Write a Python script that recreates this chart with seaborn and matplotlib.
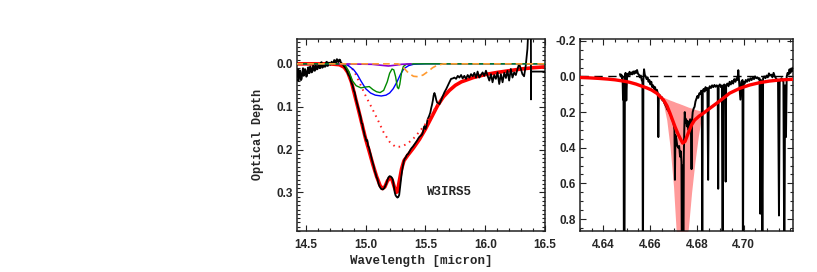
import numpy as np
import pandas as pd
import matplotlib
matplotlib.use("Agg")
import matplotlib.pyplot as plt
import seaborn as sns
from matplotlib.ticker import MultipleLocator, FormatStrFormatter

sns.set_style("ticks")
plt.rcParams['font.family'] = ['Liberation Sans', 'DejaVu Sans']
plt.rcParams['axes.unicode_minus'] = True

# ---------------- Left panel: 15 micron CO2 band, W3IRS5 ----------------
obs15_x = [14.422, 14.431, 14.436, 14.442, 14.448, 14.453, 14.458, 14.464, 14.470, 14.475,
           14.481, 14.486, 14.492, 14.497, 14.503, 14.508, 14.514, 14.519, 14.525, 14.531,
           14.536, 14.542, 14.548, 14.553, 14.558, 14.564, 14.570, 14.575, 14.581, 14.586,
           14.592, 14.597, 14.603, 14.608, 14.614, 14.619, 14.625, 14.631, 14.636, 14.642,
           14.647, 14.653, 14.658, 14.664, 14.669, 14.675, 14.680, 14.686, 14.692, 14.697,
           14.703, 14.708, 14.714, 14.719, 14.725, 14.731, 14.736, 14.742, 14.747, 14.753,
           14.758, 14.764, 14.770, 14.775, 14.781, 14.786, 14.792, 14.797, 14.804, 14.811,
           14.818, 14.825, 14.840, 14.853, 14.867, 14.878, 14.890, 14.900, 14.908, 14.918,
           14.930, 14.940, 14.950, 14.958, 14.965, 14.972, 14.978, 14.985, 14.990, 14.998,
           15.006, 15.013, 15.020, 15.027, 15.033, 15.042, 15.050, 15.060, 15.068, 15.075,
           15.083, 15.090, 15.097, 15.103, 15.110, 15.120, 15.130, 15.144, 15.155, 15.165,
           15.172, 15.180, 15.190, 15.200, 15.210, 15.220, 15.228, 15.235, 15.243, 15.250,
           15.258, 15.265, 15.272, 15.280, 15.287, 15.293, 15.300, 15.310, 15.318, 15.325,
           15.335, 15.345, 15.355, 15.367, 15.375, 15.385, 15.395, 15.408, 15.420, 15.430,
           15.440, 15.450, 15.460, 15.470, 15.478, 15.485, 15.492, 15.500, 15.508, 15.515,
           15.520, 15.530, 15.540, 15.548, 15.555, 15.562, 15.568, 15.575, 15.583, 15.590,
           15.597, 15.605, 15.617, 15.630, 15.645, 15.659, 15.673, 15.686, 15.700, 15.714,
           15.728, 15.742, 15.756, 15.770, 15.784, 15.798, 15.811, 15.825, 15.839, 15.853,
           15.867, 15.881, 15.895, 15.909, 15.923, 15.936, 15.950, 15.964, 15.978, 15.992,
           16.006, 16.020, 16.034, 16.048, 16.061, 16.075, 16.089, 16.103, 16.117, 16.131,
           16.145, 16.159, 16.173, 16.186, 16.200, 16.214, 16.228, 16.242, 16.256, 16.270,
           16.284, 16.298, 16.311, 16.325, 16.339, 16.353, 16.362, 16.382, 16.383, 16.384,
           16.500]
obs15_y = [0.030, 0.012, 0.040, 0.032, 0.015, 0.018, 0.038, 0.035, 0.020, 0.010,
           0.028, 0.026, 0.012, 0.016, 0.030, 0.028, 0.014, 0.008, 0.022, 0.021,
           0.006, 0.012, 0.020, 0.018, 0.005, 0.004, 0.016, 0.016, 0.004, 0.006,
           0.013, 0.012, 0.002, 0.000, 0.010, 0.010, -0.003, -0.004, 0.009, 0.008,
           0.000, 0.000, 0.007, 0.006, -0.004, -0.005, 0.005, 0.004, -0.003, -0.002,
           0.002, 0.001, -0.005, -0.004, -0.001, -0.002, -0.009, -0.008, -0.003, -0.004,
           -0.011, -0.010, -0.004, -0.005, -0.010, -0.009, -0.003, -0.002, 0.001, 0.001,
           0.006, 0.008, 0.015, 0.024, 0.030, 0.042, 0.050, 0.062, 0.067, 0.082,
           0.095, 0.105, 0.116, 0.125, 0.138, 0.140, 0.152, 0.158, 0.166, 0.172,
           0.180, 0.178, 0.192, 0.195, 0.203, 0.212, 0.222, 0.232, 0.240, 0.250,
           0.256, 0.264, 0.268, 0.275, 0.282, 0.288, 0.292, 0.293, 0.290, 0.284,
           0.280, 0.272, 0.265, 0.262, 0.263, 0.266, 0.272, 0.285, 0.300, 0.307,
           0.310, 0.312, 0.311, 0.306, 0.290, 0.275, 0.258, 0.240, 0.228, 0.222,
           0.218, 0.212, 0.210, 0.204, 0.200, 0.196, 0.193, 0.188, 0.183, 0.179,
           0.174, 0.170, 0.168, 0.165, 0.160, 0.150, 0.145, 0.152, 0.145, 0.133,
           0.128, 0.122, 0.114, 0.103, 0.095, 0.085, 0.074, 0.068, 0.075, 0.084,
           0.090, 0.092, 0.094, 0.085, 0.075, 0.066, 0.059, 0.051, 0.043, 0.035,
           0.034, 0.032, 0.035, 0.028, 0.032, 0.026, 0.034, 0.028, 0.035, 0.026,
           0.032, 0.024, 0.029, 0.021, 0.032, 0.018, 0.032, 0.026, 0.020, 0.028,
           0.016, 0.028, 0.039, 0.024, 0.043, 0.026, 0.035, 0.020, 0.047, 0.024,
           0.043, 0.021, 0.033, 0.016, 0.039, 0.012, 0.032, 0.020, 0.026, 0.012,
           0.000, 0.012, 0.024, 0.029, 0.004, -0.035, -0.090, -0.090, 0.083, 0.018,
           0.018]

fit15_x = [14.42, 14.70, 14.78, 14.82, 14.85, 14.88, 14.91, 14.94, 14.97, 15.00,
           15.03, 15.06, 15.09, 15.12, 15.14, 15.16, 15.18, 15.20, 15.22, 15.24,
           15.255, 15.265, 15.28, 15.30, 15.32, 15.35, 15.40, 15.45, 15.50, 15.55,
           15.60, 15.65, 15.70, 15.75, 15.80, 15.90, 16.00, 16.10, 16.20, 16.30,
           16.40, 16.50]
fit15_y = [0.000, 0.000, 0.002, 0.008, 0.020, 0.042, 0.075, 0.108, 0.142, 0.176,
           0.205, 0.235, 0.262, 0.284, 0.291, 0.287, 0.274, 0.266, 0.270, 0.288,
           0.300, 0.298, 0.275, 0.245, 0.226, 0.214, 0.196, 0.176, 0.152, 0.125,
           0.098, 0.077, 0.062, 0.050, 0.042, 0.032, 0.025, 0.020, 0.016, 0.012,
           0.009, 0.007]

broad_x = [14.80, 14.85, 14.90, 14.95, 15.00, 15.05, 15.10, 15.15, 15.20, 15.25,
           15.30, 15.35, 15.40, 15.45, 15.50, 15.55, 15.60, 15.62]
broad_y = [0.000, 0.003, 0.015, 0.045, 0.075, 0.102, 0.130, 0.160, 0.182, 0.194,
           0.193, 0.186, 0.174, 0.158, 0.140, 0.118, 0.095, 0.088]

blue_x = [14.42, 14.80, 14.85, 14.90, 14.93, 14.96, 15.00, 15.04, 15.08, 15.13,
          15.17, 15.20, 15.23, 15.26, 15.29, 15.32, 15.36, 15.40, 15.50, 16.50]
blue_y = [0.000, 0.000, 0.003, 0.014, 0.025, 0.040, 0.058, 0.068, 0.073, 0.075,
          0.073, 0.068, 0.058, 0.043, 0.025, 0.011, 0.004, 0.001, 0.000, 0.000]

green_x = [14.42, 14.80, 14.83, 14.86, 14.89, 14.92, 14.96, 15.00, 15.03, 15.06,
           15.09, 15.12, 15.15, 15.18, 15.20, 15.22, 15.235, 15.25, 15.265, 15.275,
           15.285, 15.30, 15.315, 15.34, 15.40, 16.50]
green_y = [0.000, 0.000, 0.004, 0.018, 0.040, 0.051, 0.056, 0.054, 0.053, 0.060,
           0.065, 0.067, 0.062, 0.042, 0.022, 0.012, 0.014, 0.030, 0.055, 0.058,
           0.048, 0.020, 0.006, 0.001, 0.000, 0.000]

purple_x = [14.78, 15.05, 15.12, 15.19, 15.25, 15.30, 15.38]
purple_y = [0.000, 0.001, 0.003, 0.005, 0.003, 0.001, 0.000]

orange_x = [14.42, 15.27, 15.30, 15.33, 15.36, 15.40, 15.44, 15.48, 15.52, 15.56,
            15.60, 15.65, 16.50]
orange_y = [0.000, 0.000, 0.004, 0.013, 0.022, 0.029, 0.030, 0.026, 0.018, 0.009,
            0.003, 0.000, 0.000]

source_label = "W3IRS5"

# ---------------- Right panel: 4.67 micron CO band ----------------
fit47_x = [4.6300, 4.6340, 4.6380, 4.6420, 4.6450, 4.6480, 4.6510, 4.6540, 4.6563, 4.6585,
           4.6606, 4.6629, 4.6657, 4.6672, 4.6685, 4.6706, 4.6720, 4.6728, 4.6739, 4.6749,
           4.6763, 4.6777, 4.6790, 4.6810, 4.6827, 4.6855, 4.6884, 4.6910, 4.6940, 4.6983,
           4.7026, 4.7068, 4.7110, 4.7153, 4.7210]
fit47_y = [0.006, 0.008, 0.011, 0.015, 0.019, 0.025, 0.032, 0.043, 0.054, 0.064,
           0.076, 0.095, 0.132, 0.165, 0.207, 0.281, 0.325, 0.346, 0.374, 0.365,
           0.318, 0.272, 0.245, 0.222, 0.207, 0.179, 0.151, 0.125, 0.094, 0.067,
           0.048, 0.035, 0.026, 0.020, 0.016]

band_x = [4.6650, 4.6671, 4.6685, 4.6700, 4.6711, 4.6720, 4.6740, 4.6763, 4.6777, 4.6791,
          4.6806, 4.6820, 4.6828]
band_top = [0.113, 0.125, 0.133, 0.140, 0.146, 0.150, 0.160, 0.172, 0.178, 0.185,
            0.190, 0.196, 0.200]
band_bottom = [0.113, 0.244, 0.393, 0.616, 0.860, 0.950, 0.950, 0.860, 0.654, 0.486,
               0.337, 0.225, 0.200]

obs47_x = [4.6471, 4.6474, 4.6477, 4.6480, 4.6482, 4.6484, 4.6486, 4.6488, 4.6490, 4.6492,
           4.6495, 4.6498, 4.6501, 4.6504, 4.6508, 4.6512, 4.6516, 4.6520, 4.6524, 4.6528,
           4.6532, 4.6536, 4.6540, 4.6544, 4.6548, 4.6552, 4.6556, 4.6560, 4.6564, 4.6567,
           4.6569, 4.6571, 4.6574, 4.6577, 4.6581, 4.6585, 4.6589, 4.6593, 4.6597, 4.6601,
           4.6605, 4.6609, 4.6613, 4.6617, 4.6621, 4.6625, 4.6629, 4.6633, 4.6635, 4.6637,
           4.6641, 4.6645, 4.6649, 4.6653, 4.6657, 4.6661, 4.6665, 4.6669, 4.6673, 4.6677,
           4.6681, 4.6685, 4.6689, 4.6693, 4.6697, 4.6701, 4.6704, 4.6706, 4.6708, 4.6712,
           4.6716, 4.6720, 4.6724, 4.6728, 4.6731, 4.6734, 4.6736, 4.6738, 4.6740, 4.6742,
           4.6744, 4.6746, 4.6748, 4.6751, 4.6754, 4.6757, 4.6760, 4.6763, 4.6767, 4.6771,
           4.6775, 4.6777, 4.6779, 4.6782, 4.6786, 4.6790, 4.6794, 4.6798, 4.6802, 4.6806,
           4.6810, 4.6814, 4.6818, 4.6821, 4.6823, 4.6825, 4.6829, 4.6833, 4.6837, 4.6841,
           4.6845, 4.6848, 4.6851, 4.6855, 4.6860, 4.6865, 4.6870, 4.6875, 4.6880, 4.6885,
           4.6889, 4.6891, 4.6893, 4.6898, 4.6903, 4.6907, 4.6910, 4.6913, 4.6917, 4.6921,
           4.6923, 4.6925, 4.6930, 4.6935, 4.6940, 4.6945, 4.6950, 4.6955, 4.6960, 4.6965,
           4.6970, 4.6974, 4.6977, 4.6980, 4.6986, 4.6990, 4.6995, 4.6997, 4.6999, 4.7004,
           4.7009, 4.7014, 4.7019, 4.7024, 4.7029, 4.7034, 4.7039, 4.7044, 4.7049, 4.7054,
           4.7059, 4.7064, 4.7068, 4.7071, 4.7074, 4.7077, 4.7080, 4.7083, 4.7088, 4.7093,
           4.7098, 4.7103, 4.7108, 4.7113, 4.7118, 4.7123, 4.7128, 4.7133, 4.7138, 4.7143,
           4.7147, 4.7151, 4.7154, 4.7158, 4.7162, 4.7166, 4.7170, 4.7174, 4.7177, 4.7181,
           4.7184, 4.7188, 4.7192, 4.7196, 4.7200, 4.7204, 4.7208, 4.7212]
obs47_y = [-0.013, 0.000, -0.010, 0.010, 0.000, 0.130, 0.030, 1.200, 1.200, 0.000,
           -0.020, 0.135, 0.010, -0.015, -0.005, -0.026, -0.010, -0.022, -0.012, -0.028,
           -0.015, -0.030, -0.020, -0.036, -0.015, -0.010, 0.005, -0.005, 0.020, 0.030,
           1.200, 0.020, -0.040, -0.010, 0.000, 0.015, 0.005, 0.030, 0.020, 0.045,
           0.030, 0.060, 0.050, 0.070, 0.060, 0.085, 0.075, 0.095, 0.340, 0.100,
           0.105, 0.120, 0.115, 0.135, 0.130, 0.150, 0.160, 0.170, 0.185, 0.190,
           0.200, 0.210, 0.220, 0.240, 0.250, 0.270, 0.300, 0.580, 0.330, 0.350,
           0.390, 0.400, 0.390, 0.450, 0.420, 0.480, 1.200, 0.500, 0.600, 1.200,
           0.450, 0.300, 0.200, 0.260, 0.240, 0.280, 0.250, 0.300, 0.270, 0.240,
           0.280, 0.520, 0.250, 0.200, 0.180, 0.170, 0.140, 0.125, 0.110, 0.120,
           0.095, 0.100, 0.080, 0.090, 1.200, 0.080, 0.070, 0.085, 0.060, 0.075,
           0.065, 0.580, 0.070, 0.055, 0.065, 0.050, 0.060, 0.048, 0.058, 0.050,
           0.060, 0.630, 0.055, 0.045, 0.060, 0.050, 1.200, 0.060, 0.045, 0.060,
           0.590, 0.050, 0.040, 0.055, 0.030, 0.045, 0.025, 0.040, 0.015, 0.030,
           0.010, 0.020, -0.035, 0.020, 0.130, 0.030, 0.020, 1.200, 0.030, 0.040,
           0.020, 0.030, 0.015, 0.025, 0.010, 0.020, 0.005, 0.015, 0.000, 0.010,
           0.005, 0.015, 0.010, 0.770, 0.020, 0.030, 1.200, 0.010, 0.000, 0.010,
           -0.005, 0.005, -0.017, -0.005, -0.010, 0.005, -0.020, 0.000, 0.010, 0.020,
           0.020, 0.780, 0.030, 0.020, 0.010, 0.020, 0.030, 1.200, 0.050, 0.340,
           0.000, -0.020, -0.010, -0.040, -0.020, -0.045, -0.030, -0.050]

zero47_x = [4.630, 4.721]
zero47_y = [0.0, 0.0]

xlabel_text = "Wavelength [micron]"
ylabel_text = "Optical Depth"

# ---------------- Figure ----------------
W, H = 817, 272
fig = plt.figure(figsize=(W / 100, H / 100), dpi=100)
ax1 = fig.add_axes([297 / W, 1 - 231 / H, 248 / W, 192 / H])
ax2 = fig.add_axes([580 / W, 1 - 231 / H, 213 / W, 192 / H])


def line(ax, x, y, **kw):
    sns.lineplot(x=x, y=y, ax=ax, sort=False, estimator=None, legend=False, **kw)


# left panel
line(ax1, fit15_x, fit15_y, color='#ff0000', linewidth=2.6, zorder=2)
line(ax1, obs15_x, obs15_y, color='black', linewidth=1.3, zorder=3)
line(ax1, broad_x, broad_y, color='#ff2020', linewidth=1.4, linestyle=(0, (0.8, 2.2)), zorder=4)
line(ax1, blue_x, blue_y, color='#0000ff', linewidth=1.0, zorder=4)
line(ax1, green_x, green_y, color='#008a00', linewidth=1.0, zorder=4)
line(ax1, purple_x, purple_y, color='#8a00d0', linewidth=1.2, zorder=4)
line(ax1, orange_x, orange_y, color='#ff9a30', linewidth=1.2, linestyle=(0, (4, 2.5)), zorder=5)
ax1.text(15.7, 0.299, source_label, ha='center', va='center', fontsize=9,
         family=['Liberation Mono', 'DejaVu Sans Mono'], fontweight='bold')

ax1.set_xlim(14.425, 16.5)
ax1.set_ylim(0.39, -0.058)
ax1.set_xticks([14.5, 15.0, 15.5, 16.0, 16.5])
ax1.set_yticks([0.0, 0.1, 0.2, 0.3])
ax1.xaxis.set_major_formatter(FormatStrFormatter('%.1f'))
ax1.yaxis.set_major_formatter(FormatStrFormatter('%.1f'))
ax1.xaxis.set_minor_locator(MultipleLocator(0.1))
ax1.yaxis.set_minor_locator(MultipleLocator(0.01))
ax1.set_xlabel(xlabel_text, fontsize=9, family=['Liberation Mono', 'DejaVu Sans Mono'],
               fontweight='bold')
ax1.set_ylabel(ylabel_text, fontsize=8.5, family=['Liberation Mono', 'DejaVu Sans Mono'],
               fontweight='bold')
ax1.xaxis.set_label_coords(0.5, -0.125)
ax1.yaxis.set_label_coords(-0.135, 0.5)

# right panel
ax2.fill_between(band_x, band_top, band_bottom, color='#ff9a9a', linewidth=0, zorder=1)
line(ax2, zero47_x, zero47_y, color='black', linewidth=1.0, linestyle=(0, (6, 4)), zorder=2)
line(ax2, obs47_x, obs47_y, color='black', linewidth=1.4, zorder=3)
line(ax2, fit47_x, fit47_y, color='#ff0000', linewidth=2.4, zorder=4)

ax2.set_xlim(4.630, 4.7211)
ax2.set_ylim(0.867, -0.21)
ax2.set_xticks([4.64, 4.66, 4.68, 4.70])
ax2.set_yticks([-0.2, 0.0, 0.2, 0.4, 0.6, 0.8])
ax2.xaxis.set_major_formatter(FormatStrFormatter('%.2f'))
ax2.yaxis.set_major_formatter(FormatStrFormatter('%.1f'))
ax2.xaxis.set_minor_locator(MultipleLocator(0.005))
ax2.yaxis.set_minor_locator(MultipleLocator(0.05))
ax2.set_xlabel('')
ax2.set_ylabel('')

for ax in (ax1, ax2):
    ax.set_facecolor('white')
    for s in ax.spines.values():
        s.set_visible(True)
        s.set_linewidth(1.1)
        s.set_color('#222222')
    ax.tick_params(which='both', direction='in', top=True, right=True,
                   bottom=True, left=True, color='#222222', width=0.8)
    ax.tick_params(which='major', length=4)
    ax.tick_params(which='minor', length=2)
    ax.tick_params(axis='x', which='major', pad=6)
    ax.tick_params(axis='y', which='major', pad=3)
    for lbl in ax.get_xticklabels() + ax.get_yticklabels():
        lbl.set_fontsize(8.5)
        lbl.set_fontweight('bold')

fig.savefig('out.png', dpi=100, facecolor='white')
